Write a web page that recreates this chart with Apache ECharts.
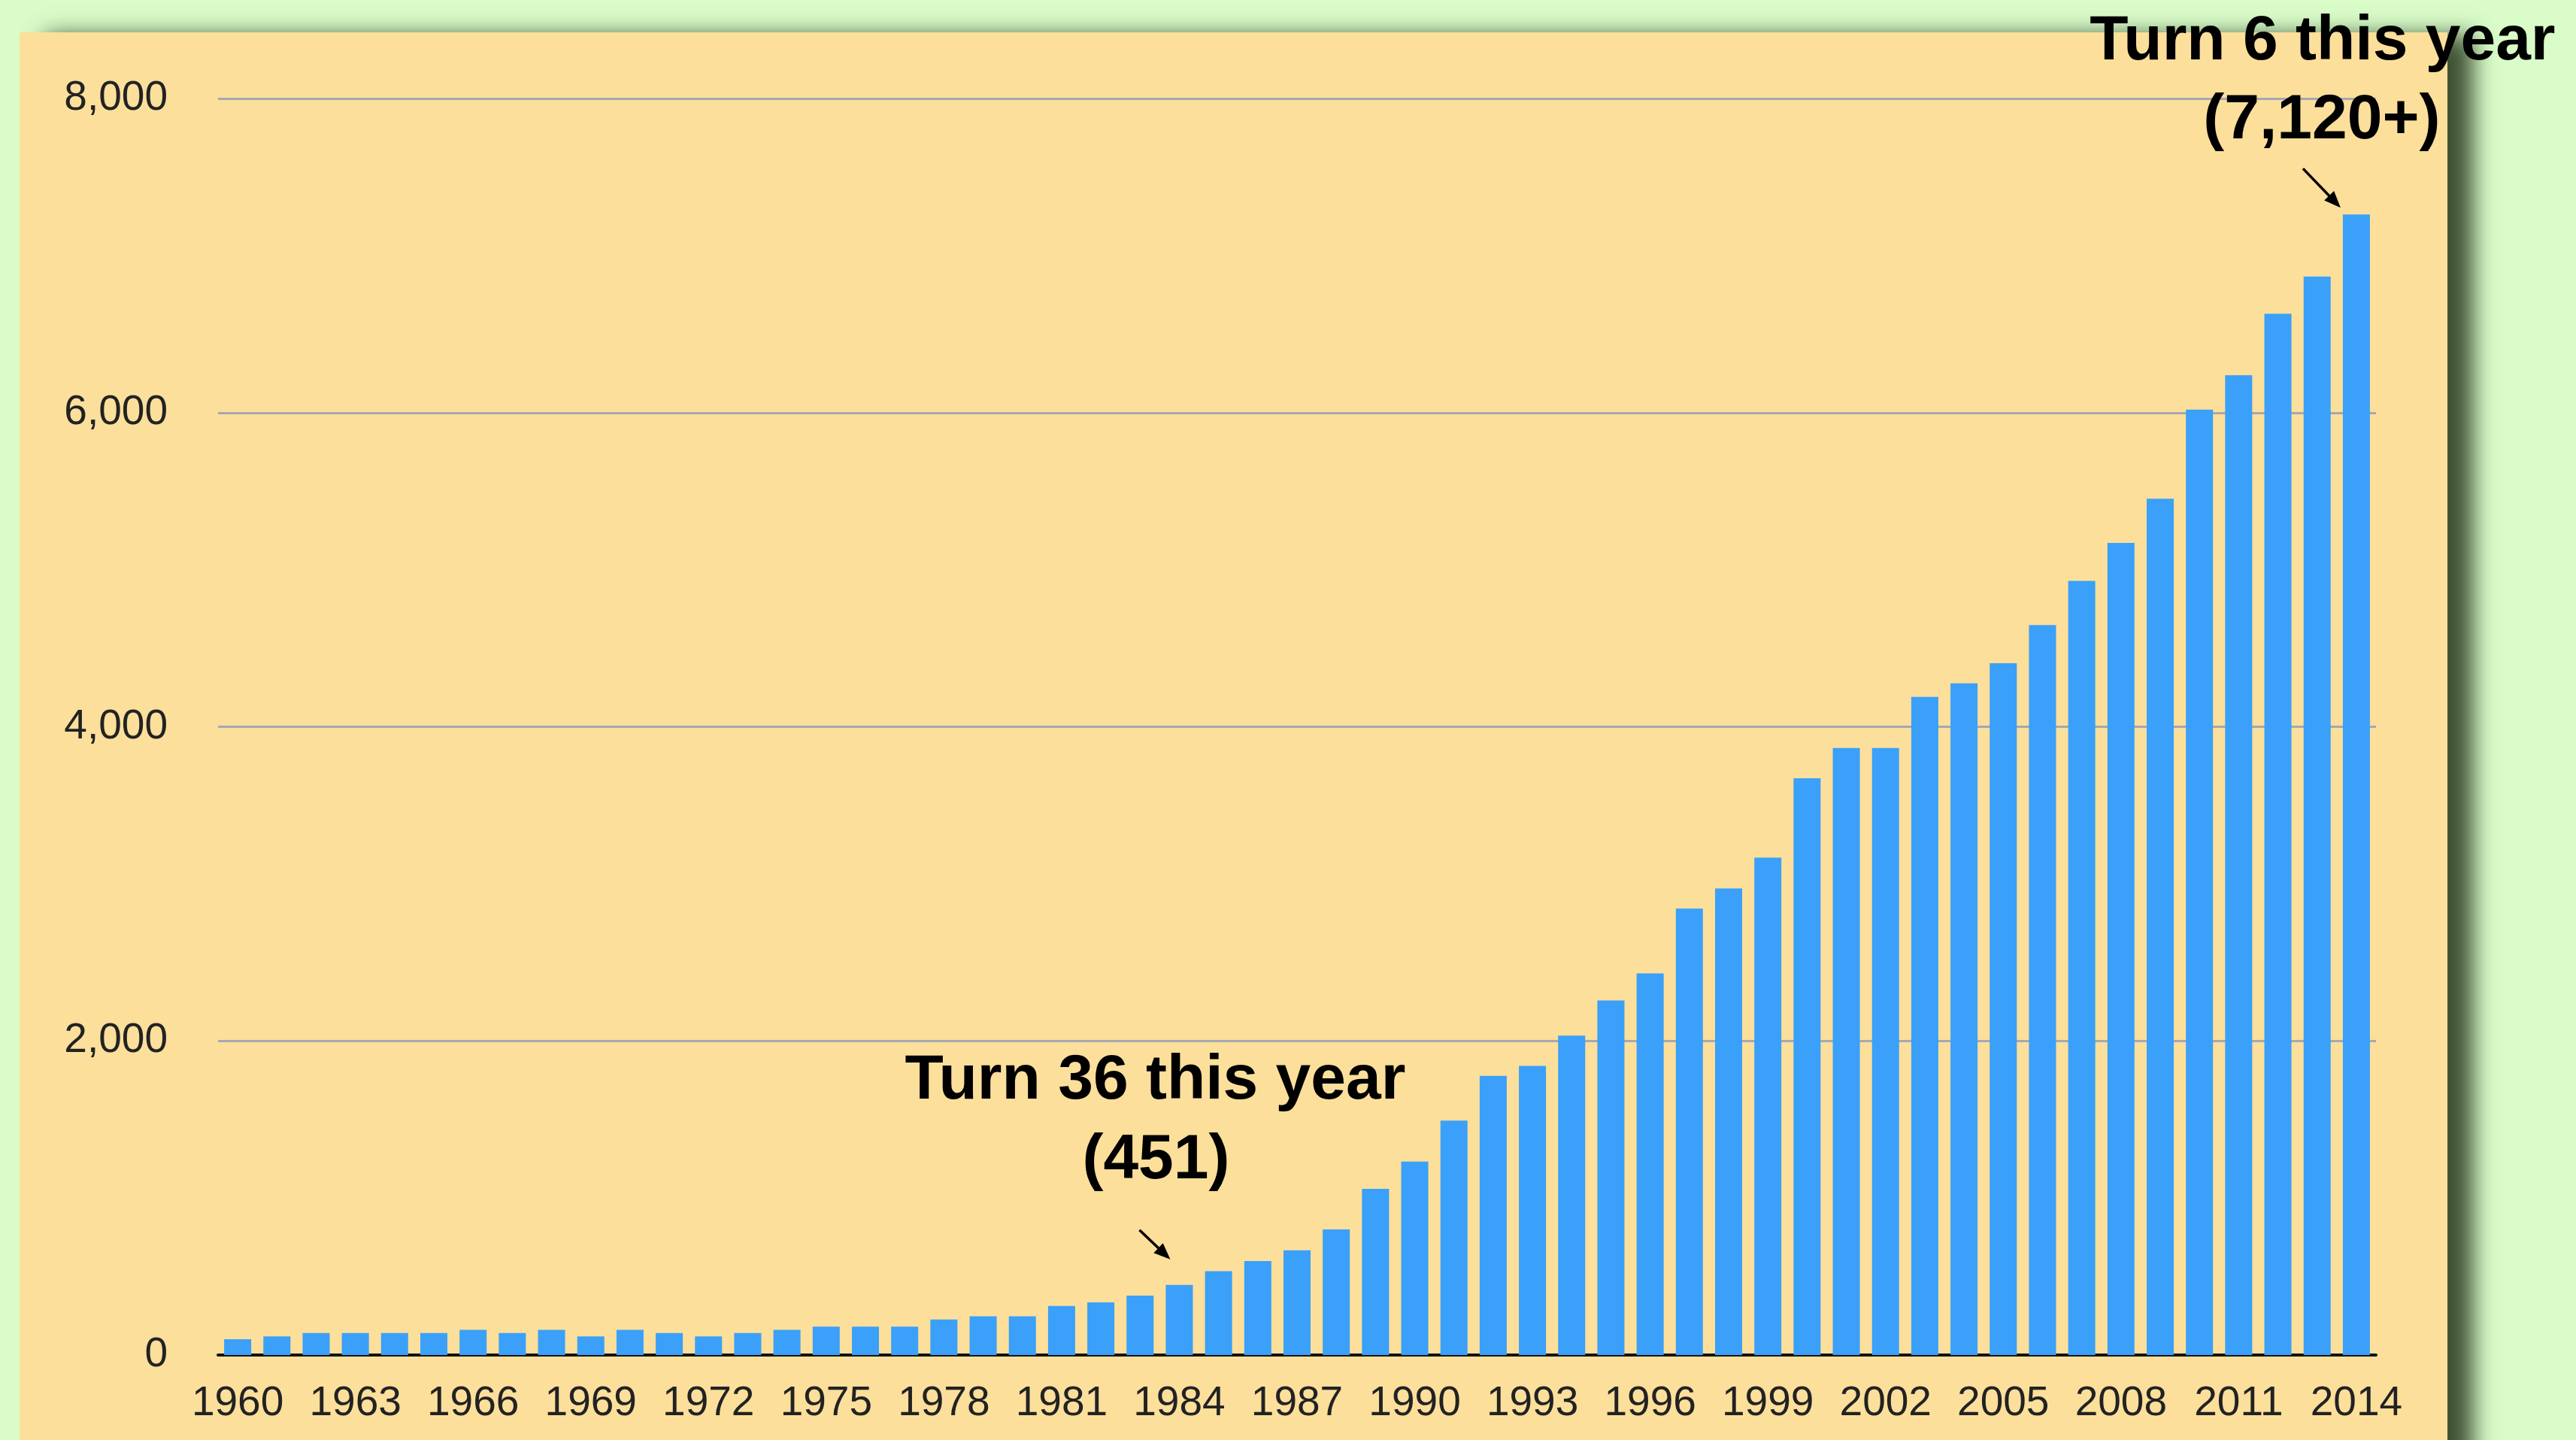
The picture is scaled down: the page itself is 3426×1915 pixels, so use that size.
<!DOCTYPE html>
<html>
<head>
<meta charset="utf-8">
<title>Count by year</title>
<script src="https://cdn.jsdelivr.net/npm/echarts@6/dist/echarts.min.js"></script>
<style>
  html, body { margin: 0; padding: 0; background: #d9fcc9; }
  #chart { width: 3426px; height: 1915px; }
</style>
</head>
<body>
<div id="chart"></div>
<script>
// years on the x axis
var years = [];
for (var y = 1960; y <= 2014; y++) years.push(String(y));

// bar heights
var counts = [
  100, 118, 140, 140, 140, 140, 160, 140, 160, 118,   // 1960-1969
  160, 140, 118, 140, 160, 181, 181, 181, 226, 246,   // 1970-1979
  246, 312, 335, 378, 446, 534, 599, 667, 799, 1058,  // 1980-1989
  1232, 1492, 1777, 1841, 2034, 2257, 2430, 2843, 2971, 3167, // 1990-1999
  3672, 3865, 3865, 4190, 4276, 4405, 4648, 4929, 5171, 5452, // 2000-2009
  6019, 6238, 6629, 6867, 7262                         // 2010-2014
];

var yTicks = [0, 2000, 4000, 6000, 8000];

// callouts: which bar they point at and the text
var notes = [
  { year: '1984', lines: ['Turn 36 this year', '(451)'], tipOff: [-12, -34], tail: [-41, -39], textOff: [[-20, -237], [-19, -131]] },
  { year: '2014', lines: ['Turn 6 this year', '(7,120+)'], tipOff: [-21, -9], tail: [-50, -52], textOff: [[-24, -220], [-25, -115]] }
];

var font = '"Liberation Sans", Arial, Helvetica, sans-serif';

var chart = echarts.init(document.getElementById('chart'));

var option = {
  backgroundColor: '#d9fcc9',
  animation: false,
  grid: { left: 290, right: 266, top: 131, bottom: 113 },
  xAxis: {
    type: 'category',
    data: years,
    axisLine: { lineStyle: { color: '#111', width: 4 } },
    axisTick: { show: false },
    axisLabel: {
      interval: 2,
      color: '#222',
      fontFamily: font,
      fontSize: 55,
      margin: 37
    }
  },
  yAxis: {
    type: 'value',
    min: yTicks[0],
    max: yTicks[yTicks.length - 1],
    interval: 2000,
    axisLine: { show: false },
    axisTick: { show: false },
    axisLabel: {
      color: '#222',
      fontFamily: font,
      fontSize: 55,
      margin: 67,
      formatter: function (v) { return v.toLocaleString('en-US') }
    },
    splitLine: { lineStyle: { color: '#a6a8b2', width: 3 } }
  },
  series: [
    {
      type: 'bar',
      data: counts,
      barWidth: 36,
      itemStyle: { color: '#3aa0f9' }
    }
  ],
  graphic: [
    {
      // the paper panel behind the chart
      type: 'rect',
      z: -10,
      silent: true,
      shape: { x: 26, y: 43, width: 3229, height: 1950 },
      style: {
        fill: '#fbdf9b',
        shadowColor: 'rgba(25,40,15,0.8)',
        shadowBlur: 28,
        shadowOffsetX: 34,
        shadowOffsetY: 4
      }
    }
  ]
};

chart.setOption(option);

// arrows + callout text, placed from the bars they point to
var extra = [];
notes.forEach(function (n) {
  var idx = years.indexOf(n.year);
  var p = chart.convertToPixel({ gridIndex: 0 }, [idx, counts[idx]]);
  var tip = [p[0] + n.tipOff[0], p[1] + n.tipOff[1]];
  var tail = [tip[0] + n.tail[0], tip[1] + n.tail[1]];
  var dx = tip[0] - tail[0], dy = tip[1] - tail[1];
  var len = Math.sqrt(dx * dx + dy * dy);
  var ux = dx / len, uy = dy / len;
  var hl = 22, hw = 9;
  var bx = tip[0] - ux * hl, by = tip[1] - uy * hl;
  extra.push({
    type: 'line', z: 100, silent: true,
    shape: { x1: tail[0], y1: tail[1], x2: bx + ux * 2, y2: by + uy * 2 },
    style: { stroke: '#000', lineWidth: 3.5 }
  });
  extra.push({
    type: 'polygon', z: 100, silent: true,
    shape: { points: [tip, [bx - uy * hw, by + ux * hw], [bx + uy * hw, by - ux * hw]] },
    style: { fill: '#000' }
  });
  n.lines.forEach(function (t, i) {
    extra.push({
      type: 'text', z: 100, silent: true,
      x: tip[0] + n.textOff[i][0],
      y: tip[1] + n.textOff[i][1],
      style: {
        text: t,
        fill: '#000',
        font: 'bold 84px ' + font,
        textAlign: 'center',
        textVerticalAlign: 'middle'
      }
    });
  });
});

chart.setOption({ graphic: option.graphic.concat(extra) });
</script>
</body>
</html>
